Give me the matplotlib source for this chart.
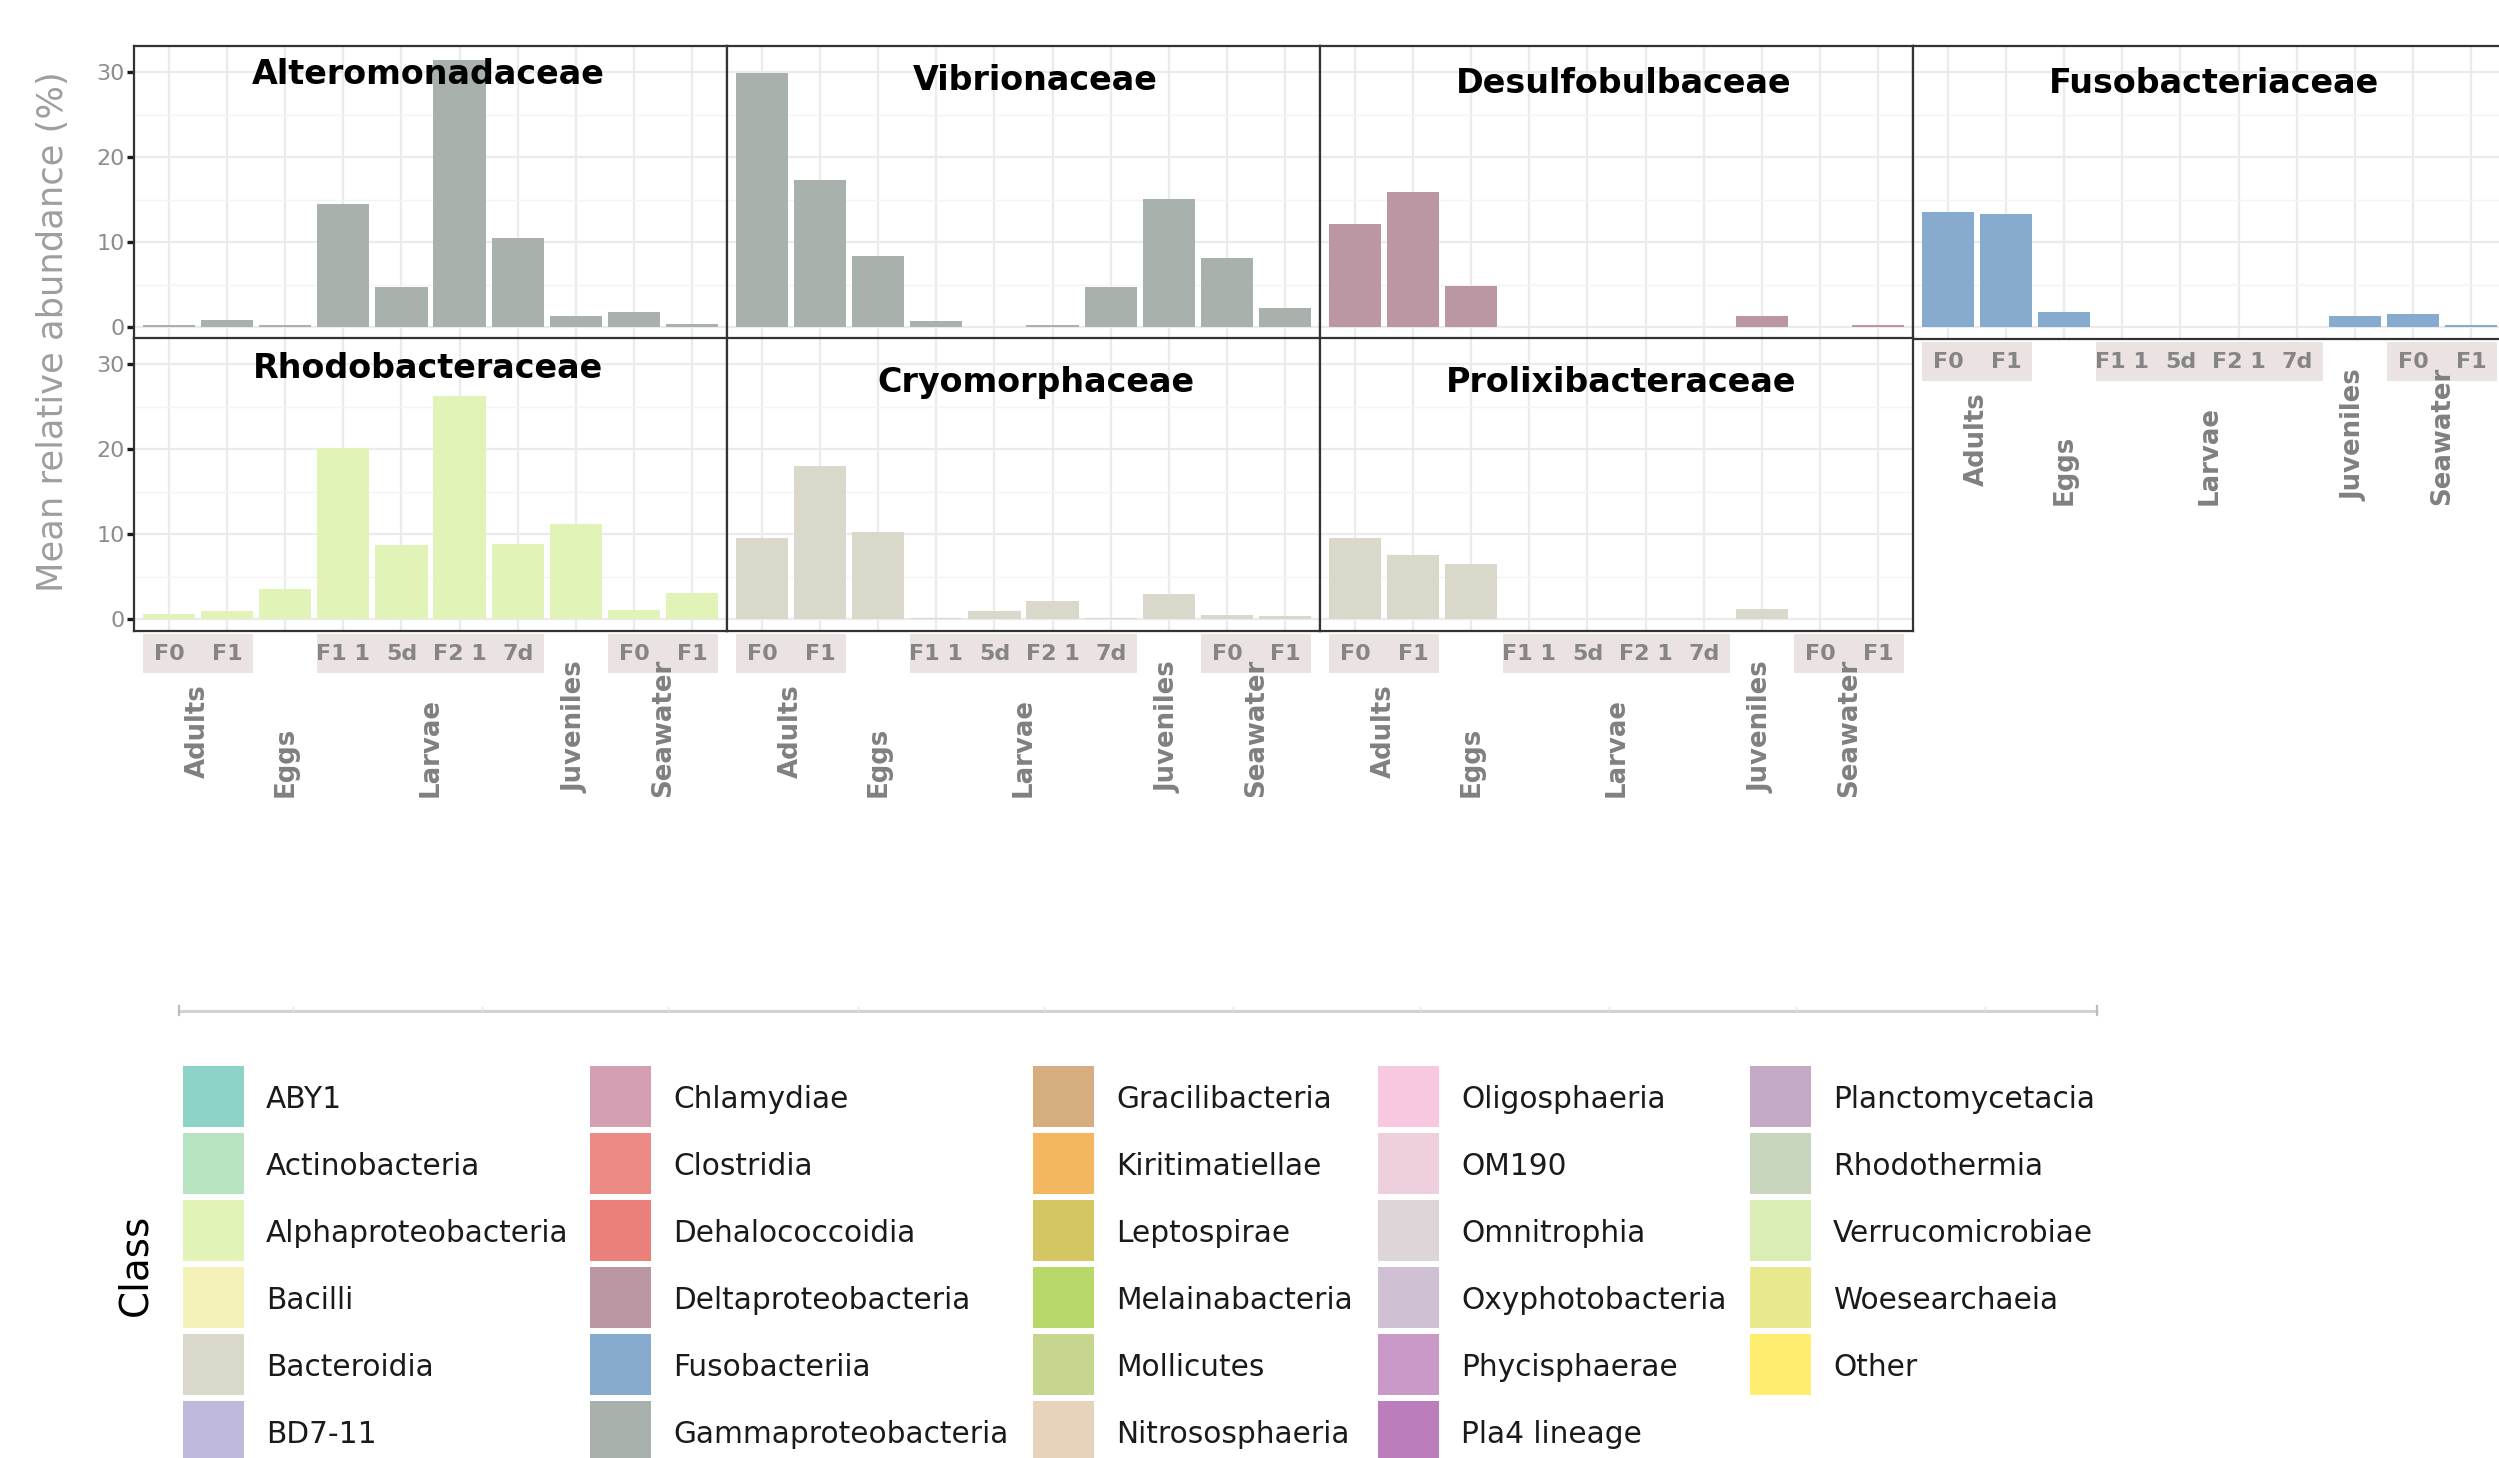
import matplotlib
matplotlib.use("Agg")
import matplotlib.pyplot as plt
import matplotlib.transforms as mtransforms
from matplotlib.patches import Rectangle
import numpy as np

# ---------------------------------------------------------------- data
sample_labels = ["F0", "F1", "", "F1 1", "5d", "F2 1", "7d", "", "F0", "F1"]
groups = ["Adults", "Eggs", "Larvae", "Juveniles", "Seawater"]
group_members = [[1, 2], [3], [4, 5, 6, 7], [8], [9, 10]]

families = ["Alteromonadaceae", "Vibrionaceae", "Desulfobulbaceae", "Fusobacteriaceae",
            "Rhodobacteraceae", "Cryomorphaceae", "Prolixibacteraceae"]
family_class = ["Gammaproteobacteria", "Gammaproteobacteria", "Deltaproteobacteria",
                "Fusobacteriia", "Alphaproteobacteria", "Bacteroidia", "Bacteroidia"]

alteromonadaceae = [0.2, 0.8, 0.3, 14.5, 4.7, 31.4, 10.5, 1.3, 1.8, 0.4]
vibrionaceae = [29.9, 17.3, 8.4, 0.7, 0.05, 0.25, 4.7, 15.1, 8.1, 2.3]
desulfobulbaceae = [12.1, 15.9, 4.8, 0.05, 0.05, 0.05, 0.0, 1.3, 0.05, 0.25]
fusobacteriaceae = [13.6, 13.3, 1.8, 0.0, 0.02, 0.05, 0.0, 1.3, 1.5, 0.25]
rhodobacteraceae = [0.6, 1.0, 3.6, 20.1, 8.7, 26.3, 8.9, 11.2, 1.1, 3.1]
cryomorphaceae = [9.6, 18.0, 10.3, 0.15, 0.9, 2.1, 0.1, 3.0, 0.5, 0.4]
prolixibacteraceae = [9.5, 7.6, 6.5, 0.0, 0.0, 0.0, 0.0, 1.2, 0.0, 0.0]
family_values = [alteromonadaceae, vibrionaceae, desulfobulbaceae, fusobacteriaceae,
                 rhodobacteraceae, cryomorphaceae, prolixibacteraceae]

class_names = ["ABY1", "Actinobacteria", "Alphaproteobacteria", "Bacilli", "Bacteroidia", "BD7-11",
               "Chlamydiae", "Clostridia", "Dehalococcoidia", "Deltaproteobacteria", "Fusobacteriia",
               "Gammaproteobacteria", "Gracilibacteria", "Kiritimatiellae", "Leptospirae",
               "Melainabacteria", "Mollicutes", "Nitrososphaeria", "Oligosphaeria", "OM190",
               "Omnitrophia", "Oxyphotobacteria", "Phycisphaerae", "Pla4 lineage",
               "Planctomycetacia", "Rhodothermia", "Verrucomicrobiae", "Woesearchaeia", "Other"]
class_colors = ["#8DD3C7", "#B8E3C0", "#E2F3B8", "#F3F1B8", "#D9D8CB", "#BEB9DA",
                "#D49FB2", "#EC8A86", "#E9807A", "#BA97A2", "#86ABCE",
                "#A9B1AC", "#D6AD7E", "#F3B661", "#D4C662",
                "#B8D96A", "#C6D68E", "#E7D3BC", "#F8C8E1", "#EDCFDD",
                "#DED5D9", "#D0C0D3", "#C99AC7", "#BB7DBC",
                "#C4A9C4", "#C8D6C0", "#D9EDB5", "#E8E88C", "#FFED6F"]
color_of = dict(zip(class_names, class_colors))

# ---------------------------------------------------------------- layout (pixels)
W, H, DPI = 2499, 1458, 100
PANEL_LEFTS = [134, 727, 1320, 1913]
PANEL_TOPS = [46, 338]
PANEL_W, PANEL_H = 593, 293
# (row, col) of each family panel
panel_cells = [(0, 0), (0, 1), (0, 2), (0, 3), (1, 0), (1, 1), (1, 2)]
# title baseline below panel top and horizontal nudge
title_dy = [38, 44, 47, 47, 40, 54, 54]
title_dx = [-2, 12, 7, 5, -2, 12, 5]
# panels that carry the sample strips underneath
strip_panels = {3, 4, 5, 6}
label_bottom_px = [147, 166, 166, 162, 166]

GRID = "#EBEBEB"
GRID_MINOR = "#F4F4F4"
BORDER = "#333333"
STRIP_FILL = "#EAE3E1"
STRIP_TEXT = "#858585"
LABEL_GREY = "#808080"

plt.rcParams["font.family"] = ["DejaVu Sans"]
fig = plt.figure(figsize=(W / DPI, H / DPI), dpi=DPI)
fig.patch.set_facecolor("white")


def to_fig(x, y, w, h):
    return [x / W, 1 - (y + h) / H, w / W, h / H]


x = np.arange(1, len(sample_labels) + 1)

for i, (fam, vals) in enumerate(zip(families, family_values)):
    r, c = panel_cells[i]
    left, top = PANEL_LEFTS[c], PANEL_TOPS[r]
    ax = fig.add_axes(to_fig(left, top, PANEL_W, PANEL_H))
    ax.set_facecolor("white")
    ax.bar(x, vals, width=0.9, color=color_of[family_class[i]], zorder=2)
    ax.set_xlim(0.4, 10.6)
    ax.set_ylim(-1.4, 33.1)
    ax.set_axisbelow(True)

    ax.set_xticks(x)
    ax.set_yticks([0, 10, 20, 30])
    ax.set_yticks([5, 15, 25], minor=True)
    ax.grid(True, which="major", color=GRID, lw=1.6, zorder=0)
    ax.grid(True, which="minor", axis="y", color=GRID_MINOR, lw=1.0, zorder=0)
    ax.tick_params(axis="x", which="both", length=0, labelbottom=False)
    ax.tick_params(axis="y", which="minor", length=0)
    if c == 0:
        ax.tick_params(axis="y", which="major", length=5, width=2.4, color="#1A1A1A",
                       labelsize=16, labelcolor="#8C8C8C", pad=1.5)
    else:
        ax.tick_params(axis="y", which="major", length=0, labelleft=False)
    for sp in ax.spines.values():
        sp.set_color(BORDER)
        sp.set_linewidth(1.6)
        sp.set_zorder(5)

    fig.text((left + PANEL_W / 2 + title_dx[i]) / W, 1 - (top + title_dy[i]) / H, fam,
             ha="center", va="baseline", fontsize=24, fontweight="bold", color="black")

    if i in strip_panels:
        trans = mtransforms.blended_transform_factory(ax.transData, ax.transAxes)
        s_top, s_bot = -3 / PANEL_H, -42 / PANEL_H
        for g, members in enumerate(group_members):
            labs = [sample_labels[m - 1] for m in members]
            if any(labs):
                ax.add_patch(Rectangle((members[0] - 0.45, s_bot),
                                       members[-1] - members[0] + 0.9, s_top - s_bot,
                                       transform=trans, facecolor=STRIP_FILL,
                                       edgecolor="none", clip_on=False, zorder=1))
                for m, lab in zip(members, labs):
                    ax.text(m, (s_top + s_bot) / 2, lab, transform=trans, ha="center",
                            va="center", fontsize=16, fontweight="bold",
                            color=STRIP_TEXT, clip_on=False, zorder=2)
            ax.text(np.mean(members), -label_bottom_px[g] / PANEL_H, groups[g],
                    transform=trans, rotation=90, ha="center", va="bottom",
                    fontsize=18.7, fontweight="bold", color=LABEL_GREY,
                    clip_on=False, zorder=3)

# shared y-axis title
fig.text(53 / W, 1 - 332 / H, "Mean relative abundance (%)", rotation=90,
         ha="center", va="center", fontsize=25.4, color="#9E9E9E")

# ---------------------------------------------------------------- legend
lax = fig.add_axes([0, 0, 1, 1])
lax.set_xlim(0, W)
lax.set_ylim(H, 0)
lax.axis("off")

lax.plot([178, 2098], [1011, 1011], color="#D2D2D2", lw=2.2, solid_capstyle="butt")
for tx in [293, 482, 668, 858, 1044, 1233, 1420, 1609, 1796, 1985]:
    lax.plot([tx, tx], [1007, 1011], color="#E2E2E2", lw=1.0)
lax.plot([179, 179], [1006, 1015], color="#BDBDBD", lw=1.6)
lax.plot([2097, 2097], [1006, 1015], color="#BDBDBD", lw=1.6)

lax.text(135, 1265, "Class", rotation=90, ha="center", va="center",
         fontsize=28, color="black")

col_x = [183, 590, 1033, 1378, 1750]
KEY, ROW0, ROW_STEP, NROW = 61, 1066, 67, 6
for k, (name, col) in enumerate(zip(class_names, class_colors)):
    ci, ri = divmod(k, NROW)
    kx, ky = col_x[ci], ROW0 + ri * ROW_STEP
    lax.add_patch(Rectangle((kx, ky), KEY, KEY, facecolor=col, edgecolor="none"))
    lax.text(kx + 83, ky + KEY / 2 + 3, name, ha="left", va="center",
             fontsize=21.3, color="#1A1A1A")

fig.savefig("out.png", dpi=DPI, facecolor="white")
